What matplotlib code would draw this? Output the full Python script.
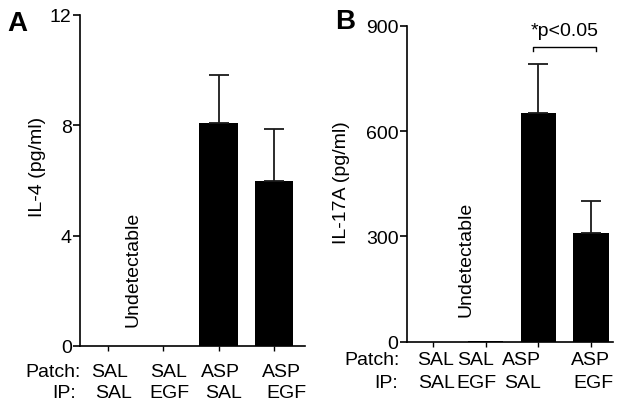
import matplotlib
matplotlib.use("Agg")
import matplotlib.pyplot as plt
import matplotlib.transforms as mtransforms
import numpy as np

plt.rcParams['font.family'] = ['Liberation Sans', 'DejaVu Sans']

patch = ["SAL", "SAL", "ASP", "ASP"]
ip = ["SAL", "EGF", "SAL", "EGF"]

il4 = [0, 0, 8.1, 6.0]
il4_err = [0, 0, 1.72, 1.85]
il17 = [0, 2, 650, 309]
il17_err = [0, 0, 141, 93]

W, H = 626, 410
fig = plt.figure(figsize=(6.26, 4.10), dpi=100)
axA = fig.add_axes([80 / W, 1 - 347 / H, 225 / W, 331 / H])
axB = fig.add_axes([406.7 / W, 1 - 342.7 / H, 206.3 / W, 316 / H])

FS = 14

def style(ax, ymax, yticks):
    x = np.arange(4)
    for s in ['top', 'right']:
        ax.spines[s].set_visible(False)
    for s in ['left', 'bottom']:
        ax.spines[s].set_linewidth(1.2)
    ax.set_ylim(0, ymax)
    ax.set_yticks(yticks)
    ax.set_xticks(x)
    ax.set_xticklabels([])
    ax.tick_params(axis='y', direction='out', length=5, width=1.2, labelsize=FS, pad=1)
    ax.tick_params(axis='x', direction='out', length=3.5, width=1.0)

def labels(ax, offs_p, offs_i, y1, y2, lab_x):
    tr = mtransforms.blended_transform_factory(ax.transData, fig.transFigure)
    for i in range(4):
        ax.text(i + offs_p[i], y1, patch[i], transform=tr, ha='center', va='baseline', fontsize=FS)
        ax.text(i + offs_i[i], y2, ip[i], transform=tr, ha='center', va='baseline', fontsize=FS)
    fig.text(lab_x[0], y1, "Patch:", ha='right', va='baseline', fontsize=FS)
    fig.text(lab_x[1], y2, "IP:", ha='right', va='baseline', fontsize=FS)

x = np.arange(4)
# Panel A
axA.bar(x, il4, width=0.69, color='black')
axA.errorbar(x[2:], il4[2:], yerr=[np.zeros(2), il4_err[2:]], fmt='none',
             ecolor='#1a1a1a', elinewidth=1.3, capsize=7, capthick=1.3)
style(axA, 12, [0, 4, 8, 12])
axA.set_xlim(-0.5, 3.56)
fig.text(37.5 / W, 1 - 167 / H, "IL-4 (pg/ml)", rotation=90, ha='center', va='center', fontsize=FS)
axA.text(0.45, 2.83, "Undetectable", rotation=90, ha='center', va='center', fontsize=FS)
labels(axA, [0.04, 0.09, 0.04, 0.14], [0.11, 0.11, 0.09, 0.22],
       1 - 376.7 / H, 1 - 398 / H, (81 / W, 76 / W))
fig.text(7 / W, 1 - 24 / H, "A", fontsize=20, fontweight='bold', ha='left', va='center')

# Panel B
axB.bar(x, il17, width=0.67, color='black')
axB.errorbar(x[2:], il17[2:], yerr=[np.zeros(2), il17_err[2:]], fmt='none',
             ecolor='#1a1a1a', elinewidth=1.3, capsize=7, capthick=1.3)
style(axB, 900, [0, 300, 600, 900])
axB.set_xlim(-0.5, 3.42)
fig.text(342 / W, 1 - 183 / H, "IL-17A (pg/ml)", rotation=90, ha='center', va='center', fontsize=FS)
axB.text(0.62, 236, "Undetectable", rotation=90, ha='center', va='center', fontsize=FS)
labels(axB, [0.05, -0.2, -0.32, 0.0], [0.07, -0.18, -0.29, 0.04],
       1 - 365 / H, 1 - 388.3 / H, (400 / W, 398 / W))
fig.text(335 / W, 1 - 22 / H, "B", fontsize=20, fontweight='bold', ha='left', va='center')

# significance bracket
axB.plot([1.9, 1.9, 3.09, 3.09], [829, 840, 840, 829], color='black', lw=1.0, clip_on=False)
axB.text(2.5, 862, "*p<0.05", ha='center', va='bottom', fontsize=FS, clip_on=False)

fig.savefig("out.png", dpi=100)
